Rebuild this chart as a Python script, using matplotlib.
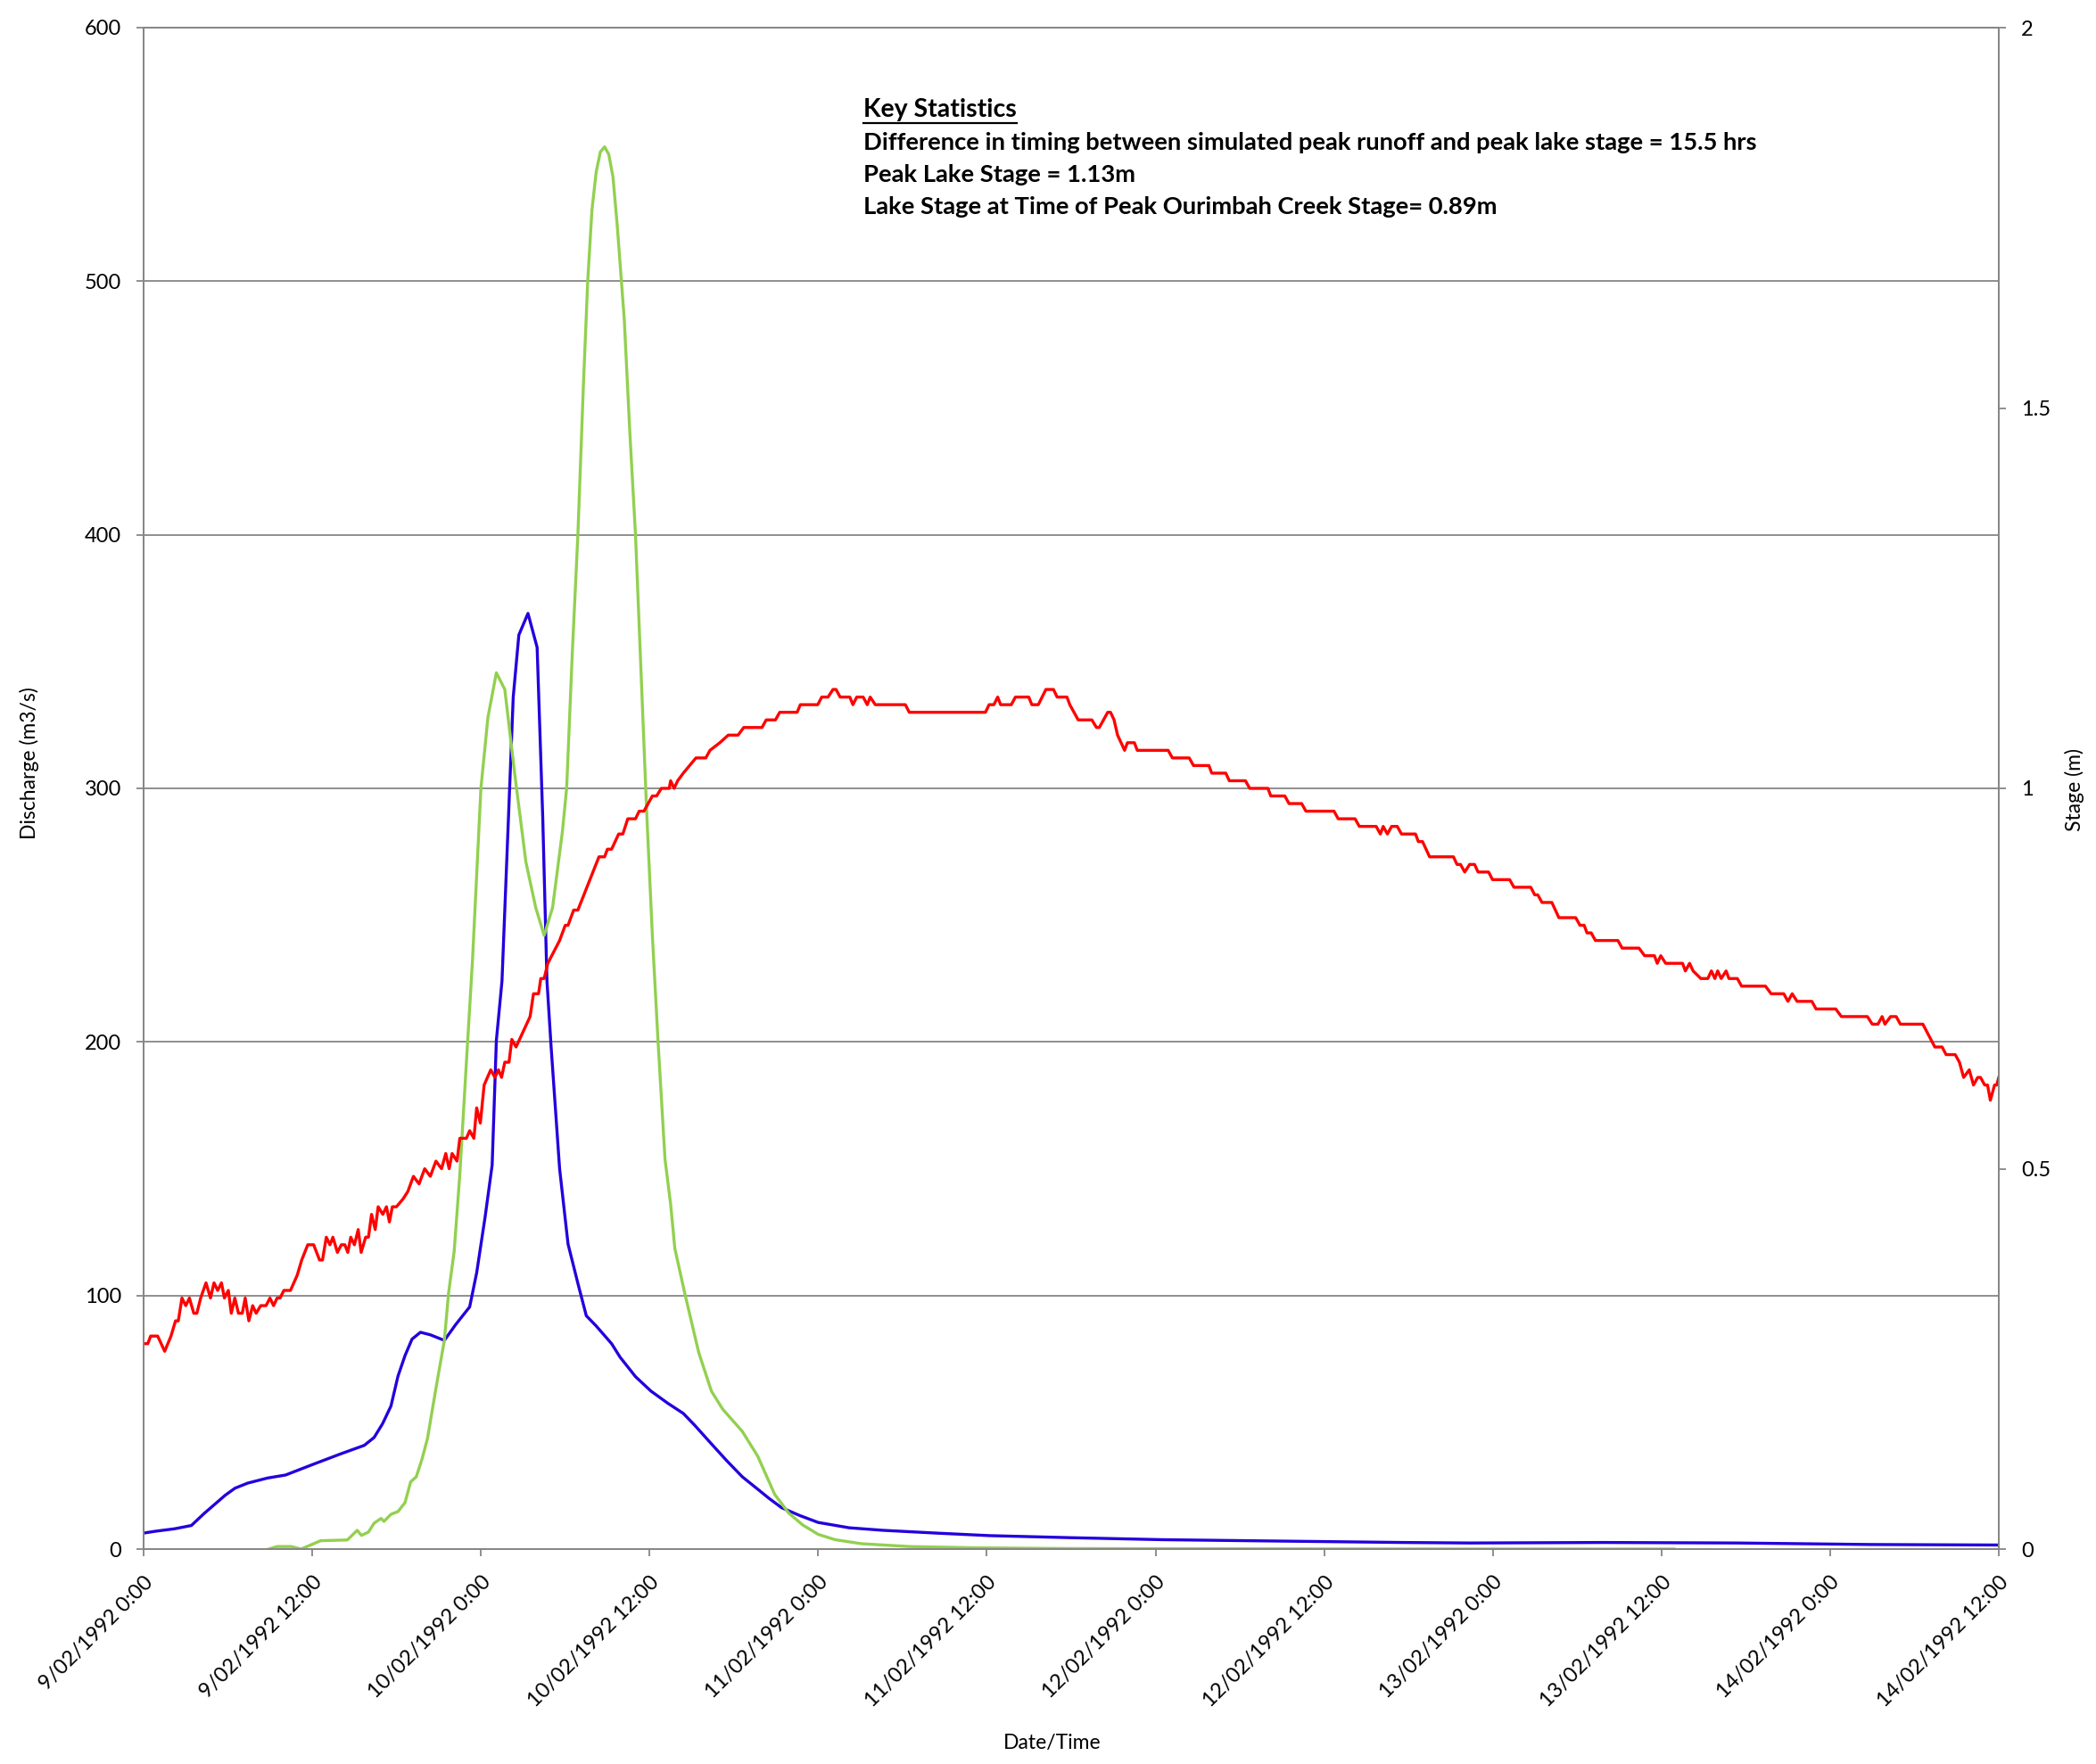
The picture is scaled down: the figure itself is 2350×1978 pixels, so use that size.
import matplotlib
matplotlib.use('Agg')
import matplotlib.pyplot as plt
from matplotlib.lines import Line2D
from matplotlib.transforms import ScaledTranslation

plt.rcParams['font.family'] = ['Lato', 'DejaVu Sans']

# hours after 9/02/1992 0:00
tick_hours = [0, 12, 24, 36, 48, 60, 72, 84, 96, 108, 120, 132]
tick_labels = ['9/02/1992 0:00', '9/02/1992 12:00', '10/02/1992 0:00', '10/02/1992 12:00',
               '11/02/1992 0:00', '11/02/1992 12:00', '12/02/1992 0:00', '12/02/1992 12:00',
               '13/02/1992 0:00', '13/02/1992 12:00', '14/02/1992 0:00', '14/02/1992 12:00']

# blue discharge (m3/s)
blue_hours = [0, 0.8, 2.2, 3.4, 4.3, 5.8, 6.5, 7.4, 8.8, 10.1,
              12.1, 14.0, 15.7, 16.4, 17.0, 17.6, 18.1, 18.6, 19.1, 19.7,
              20.4, 21.4, 22.2, 23.2, 23.7, 24.3, 24.8, 25.1, 25.5, 25.9,
              26.3, 26.7, 27.35, 28.0, 28.4, 28.7, 29.0, 29.6, 30.2, 30.9,
              31.5, 32.2, 33.3, 33.9, 35.0, 36.1, 37.3, 38.4, 39.2, 40.4,
              41.5, 42.6, 43.7, 44.5, 45.4, 46.7, 48.0, 50.2, 52.6, 56.4,
              60.2, 65.9, 72.5, 80.1, 89.6, 94.4, 103.9, 113.4, 122.9, 132]
blue_q = [6.3, 7, 8, 9.3, 14, 21.2, 24, 26, 28, 29.2,
          33.5, 37.5, 40.9, 44, 49.4, 56.4, 68.2, 76.3, 82.8, 85.5,
          84.5, 82.3, 88.5, 95.5, 109, 131, 151.4, 200.6, 224, 280,
          336, 360.5, 369, 355.6, 288.5, 224, 197.7, 150, 120.3, 104.8,
          92, 88, 81, 75.7, 68, 62.3, 57.5, 53.5, 48.9, 41.5,
          34.8, 28.5, 23.6, 20, 16.3, 13.2, 10.5, 8.4, 7.4, 6.3,
          5.3, 4.5, 3.7, 3.2, 2.6, 2.4, 2.6, 2.4, 1.8, 1.6]

# green discharge (m3/s)
green_hours = [8.9, 9.5, 10.5, 11.2, 12.6, 14.5, 15.2, 15.5, 16.0, 16.4,
               16.9, 17.1, 17.6, 18.1, 18.6, 19.0, 19.4, 19.8, 20.2, 20.8,
               21.4, 21.7, 22.1, 22.5, 23.0, 23.4, 24.0, 24.5, 25.1, 25.7,
               26.4, 27.2, 27.9, 28.5, 29.1, 29.8, 30.1, 30.5, 30.9, 31.3,
               31.6, 31.9, 32.2, 32.5, 32.8, 33.1, 33.4, 33.7, 34.2, 34.6,
               35.0, 35.4, 35.8, 36.2, 36.6, 37.1, 37.5, 37.8, 38.5, 39.2,
               39.5, 40.4, 41.2, 42.6, 43.7, 44.9, 45.9, 46.9, 48.0, 49.2,
               51.1, 54.5, 59.2, 65.9, 84.9, 108.9]
green_q = [0, 1, 1, 0, 3.3, 3.6, 7.4, 5.4, 6.7, 10.2,
           12.1, 10.9, 13.7, 14.8, 18.3, 26.5, 28.5, 35.3, 43.6, 63.4,
           82.3, 101, 117.5, 147.8, 195, 232, 300, 328, 345.6, 339,
           306, 271, 253, 242, 253, 283, 300, 353, 400, 460,
           500, 528, 543, 551, 553, 550, 541, 522, 485, 440,
           400, 345, 290, 242, 200.6, 153.7, 136, 118.5, 101, 84.5,
           77.5, 62.3, 55.2, 46.4, 36.6, 21.6, 14.2, 9.5, 5.8, 3.7,
           2.1, 1.0, 0.5, 0.2, 0.05, 0]

# red lake stage (m)
red_hours = [0, 0.3, 0.5, 1.0, 1.5, 1.95, 2.27, 2.47, 2.73, 3.0,
             3.26, 3.57, 3.79, 4.06, 4.44, 4.76, 5.01, 5.27, 5.54, 5.75,
             6.03, 6.24, 6.49, 6.75, 7.02, 7.23, 7.49, 7.76, 8.01, 8.33,
             8.71, 8.99, 9.25, 9.5, 9.71, 9.98, 10.45, 10.93, 11.25, 11.68,
             12.1, 12.52, 12.73, 13.0, 13.26, 13.47, 13.79, 14.07, 14.32, 14.53,
             14.74, 15.0, 15.27, 15.48, 15.8, 16.0, 16.22, 16.48, 16.69, 17.02,
             17.28, 17.49, 17.7, 17.99, 18.45, 18.8, 19.2, 19.6, 20.0, 20.4,
             20.8, 21.2, 21.5, 21.74, 21.95, 22.3, 22.5, 22.97, 23.2, 23.5,
             23.7, 23.96, 24.23, 24.7, 25.0, 25.25, 25.47, 25.7, 26.0, 26.2,
             26.5, 27.5, 27.74, 28.1, 28.26, 28.5, 28.76, 29.6, 30.0, 30.2,
             30.6, 30.9, 32.4, 32.8, 33.0, 33.3, 33.8, 34.1, 34.45, 35.0,
             35.26, 35.6, 35.9, 36.2, 36.5, 36.84, 37.4, 37.5, 37.75, 38.0,
             38.4, 38.85, 39.3, 40.0, 40.3, 41.0, 41.6, 42.3, 42.7, 43.7,
             44.0, 44.3, 44.96, 45.26, 46.5, 46.73, 47.97, 48.25, 48.7, 49.05,
             49.27, 49.56, 50.25, 50.47, 50.74, 51.2, 51.49, 51.7, 52.06, 54.2,
             54.48, 59.9, 60.16, 60.5, 60.77, 60.98, 61.74, 62.03, 62.98, 63.2,
             63.66, 63.93, 64.2, 64.74, 65.0, 65.7, 65.9, 66.5, 67.47, 67.8,
             68.0, 68.3, 68.6, 68.8, 69.05, 69.3, 69.8, 70.0, 70.5, 70.7,
             72.9, 73.2, 74.4, 74.7, 75.8, 76.0, 77.0, 77.25, 78.4, 78.7,
             80.0, 80.2, 81.2, 81.5, 82.4, 82.7, 84.7, 85.0, 86.2, 86.5,
             87.7, 88.0, 88.2, 88.5, 88.8, 89.2, 89.5, 90.5, 90.7, 91.0,
             91.5, 93.2, 93.45, 93.7, 94.0, 94.35, 94.7, 94.95, 95.7, 95.98,
             97.2, 97.5, 98.7, 98.98, 99.2, 99.5, 100.2, 100.7, 101.9, 102.2,
             102.5, 102.7, 103.0, 103.3, 104.9, 105.2, 106.4, 106.8, 107.5, 107.7,
             107.95, 108.3, 109.5, 109.7, 110.0, 110.25, 110.8, 111.3, 111.55, 111.8,
             112.0, 112.25, 112.6, 112.8, 113.4, 113.7, 115.4, 115.8, 116.7, 117.0,
             117.3, 117.65, 118.7, 119.0, 120.4, 120.8, 122.65, 123.0, 123.4, 123.7,
             123.9, 124.3, 124.7, 125.0, 126.6, 127.45, 127.97, 128.25, 128.9, 129.2,
             129.5, 129.9, 130.2, 130.5, 130.7, 131.0, 131.2, 131.4, 131.7, 131.85,
             132.0]
red_stage = [0.27, 0.27, 0.28, 0.28, 0.26, 0.28, 0.30, 0.30, 0.33, 0.32,
             0.33, 0.31, 0.31, 0.33, 0.35, 0.33, 0.35, 0.34, 0.35, 0.33,
             0.34, 0.31, 0.33, 0.31, 0.31, 0.33, 0.30, 0.32, 0.31, 0.32,
             0.32, 0.33, 0.32, 0.33, 0.33, 0.34, 0.34, 0.36, 0.38, 0.40,
             0.40, 0.38, 0.38, 0.41, 0.40, 0.41, 0.39, 0.40, 0.40, 0.39,
             0.41, 0.40, 0.42, 0.39, 0.41, 0.41, 0.44, 0.42, 0.45, 0.44,
             0.45, 0.43, 0.45, 0.45, 0.46, 0.47, 0.49, 0.48, 0.50, 0.49,
             0.51, 0.50, 0.52, 0.50, 0.52, 0.51, 0.54, 0.54, 0.55, 0.54,
             0.58, 0.56, 0.61, 0.63, 0.62, 0.63, 0.62, 0.64, 0.64, 0.67,
             0.66, 0.70, 0.73, 0.73, 0.75, 0.75, 0.77, 0.80, 0.82, 0.82,
             0.84, 0.84, 0.91, 0.91, 0.92, 0.92, 0.94, 0.94, 0.96, 0.96,
             0.97, 0.97, 0.98, 0.99, 0.99, 1.00, 1.00, 1.01, 1.00, 1.01,
             1.02, 1.03, 1.04, 1.04, 1.05, 1.06, 1.07, 1.07, 1.08, 1.08,
             1.08, 1.09, 1.09, 1.10, 1.10, 1.11, 1.11, 1.12, 1.12, 1.13,
             1.13, 1.12, 1.12, 1.11, 1.12, 1.12, 1.11, 1.12, 1.11, 1.11,
             1.10, 1.10, 1.11, 1.11, 1.12, 1.11, 1.11, 1.12, 1.12, 1.11,
             1.11, 1.12, 1.13, 1.13, 1.12, 1.12, 1.11, 1.09, 1.09, 1.08,
             1.08, 1.09, 1.10, 1.10, 1.09, 1.07, 1.05, 1.06, 1.06, 1.05,
             1.05, 1.04, 1.04, 1.03, 1.03, 1.02, 1.02, 1.01, 1.01, 1.00,
             1.00, 0.99, 0.99, 0.98, 0.98, 0.97, 0.97, 0.96, 0.96, 0.95,
             0.95, 0.94, 0.95, 0.94, 0.95, 0.95, 0.94, 0.94, 0.93, 0.93,
             0.91, 0.91, 0.90, 0.90, 0.89, 0.90, 0.90, 0.89, 0.89, 0.88,
             0.88, 0.87, 0.87, 0.86, 0.86, 0.85, 0.85, 0.83, 0.83, 0.82,
             0.82, 0.81, 0.81, 0.80, 0.80, 0.79, 0.79, 0.78, 0.78, 0.77,
             0.78, 0.77, 0.77, 0.76, 0.77, 0.76, 0.75, 0.75, 0.76, 0.75,
             0.76, 0.75, 0.76, 0.75, 0.75, 0.74, 0.74, 0.73, 0.73, 0.72,
             0.73, 0.72, 0.72, 0.71, 0.71, 0.70, 0.70, 0.69, 0.69, 0.70,
             0.69, 0.70, 0.70, 0.69, 0.69, 0.66, 0.66, 0.65, 0.65, 0.64,
             0.62, 0.63, 0.61, 0.62, 0.62, 0.61, 0.61, 0.59, 0.61, 0.61,
             0.62]

stats_title = 'Key Statistics'
stats_lines = ['Difference in timing between simulated peak runoff and peak lake stage = 15.5 hrs',
               'Peak Lake Stage = 1.13m',
               'Lake Stage at Time of Peak Ourimbah Creek Stage= 0.89m']

W, H = 2350, 1978
gray = '#868686'

fig = plt.figure(figsize=(W / 100, H / 100), dpi=100)
ax = fig.add_axes([161 / W, 1 - 1737 / H, (2241 - 161) / W, (1737 - 31) / H])
ax2 = ax.twinx()

ax.plot(blue_hours, blue_q, color='#2200dd', lw=2.4)
ax.plot(green_hours, green_q, color='#92d050', lw=2.4)
ax2.plot(red_hours, red_stage, color='#ff0000', lw=2.4)

ax.set_xlim(0, 132)
ax.set_ylim(0, 600)
ax2.set_ylim(0, 2)
ax.set_yticks(range(0, 601, 100))
ax2.set_yticks([0, 0.5, 1, 1.5, 2])
ax2.set_yticklabels(['0', '0.5', '1', '1.5', '2'])
ax.set_xticks(tick_hours)
ax.set_xticklabels(tick_labels, rotation=45, ha='right', va='top', rotation_mode='anchor')
shift = ScaledTranslation(5 / 100, 0, fig.dpi_scale_trans)
for lab in ax.get_xticklabels():
    lab.set_transform(lab.get_transform() + shift)

ax.grid(axis='y', color=gray, lw=1.3)
ax.set_axisbelow(True)
for a in (ax, ax2):
    for s in a.spines.values():
        s.set_color(gray)
        s.set_linewidth(1.3)
ax.tick_params(axis='both', colors=gray, labelcolor='black', labelsize=17,
               length=6, width=1.3, direction='out')
ax.tick_params(axis='y', pad=12)
ax.tick_params(axis='x', pad=13)
ax2.tick_params(axis='y', colors=gray, labelcolor='black', labelsize=17,
                length=6, width=1.3, direction='out', pad=12)

fig.text(33 / W, 1 - 856 / H, 'Discharge (m3/s)', rotation=90, ha='center', va='center', fontsize=16.5)
fig.text(2326 / W, 1 - 886 / H, 'Stage (m)', rotation=90, ha='center', va='center', fontsize=16.5)
fig.text(1180 / W, 1 - 1954 / H, 'Date/Time', ha='center', va='center', fontsize=16.5)

tx = 968 / W
title = fig.text(tx, 1 - 131 / H, stats_title, fontsize=20.5, fontweight='bold', va='baseline')
for i, line in enumerate(stats_lines):
    fig.text(tx, 1 - (168 + 36 * i) / H, line, fontsize=19.7, fontweight='bold', va='baseline')

# underline the heading
fig.canvas.draw()
bb = title.get_window_extent().transformed(fig.transFigure.inverted())
uy = 1 - 138 / H
fig.add_artist(Line2D([bb.x0, bb.x1], [uy, uy], transform=fig.transFigure, color='black', lw=1.6))

fig.savefig('out.png', dpi=100)
